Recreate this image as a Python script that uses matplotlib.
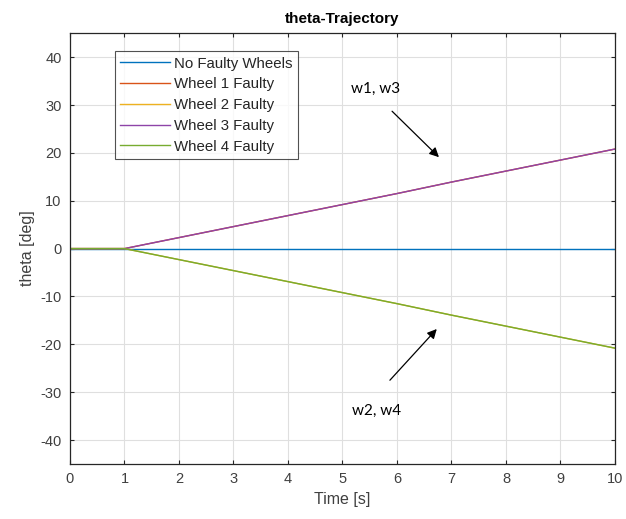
import matplotlib.pyplot as plt

# time samples [s]
time = [0, 1, 2, 3, 4, 5, 6, 7, 8, 9, 10]

# theta [deg] per case
no_faulty = [0, 0, 0, 0, 0, 0, 0, 0, 0, 0, 0]
wheel1 = [0, 0, 2.3, 4.6, 6.9, 9.2, 11.5, 13.9, 16.2, 18.5, 20.8]
wheel2 = [0, 0, -2.3, -4.6, -6.9, -9.2, -11.5, -13.9, -16.2, -18.5, -20.8]
wheel3 = [0, 0, 2.3, 4.6, 6.9, 9.2, 11.5, 13.9, 16.2, 18.5, 20.8]
wheel4 = [0, 0, -2.3, -4.6, -6.9, -9.2, -11.5, -13.9, -16.2, -18.5, -20.8]

labels = ['No Faulty Wheels', 'Wheel 1 Faulty', 'Wheel 2 Faulty',
          'Wheel 3 Faulty', 'Wheel 4 Faulty']
colors = ['#0072BD', '#D95319', '#EDB120', '#8E44A8', '#77AC30']

x_ticks = [0, 1, 2, 3, 4, 5, 6, 7, 8, 9, 10]
y_ticks = [-40, -30, -20, -10, 0, 10, 20, 30, 40]

plt.rcParams['font.family'] = ['Liberation Sans', 'DejaVu Sans']
plt.rcParams['axes.unicode_minus'] = False

fig = plt.figure(figsize=(6.26, 5.19), dpi=100)
ax = fig.add_axes([0.1118, 0.106, 0.8706, 0.830])

for y, lab, c in zip([no_faulty, wheel1, wheel2, wheel3, wheel4], labels, colors):
    ax.plot(time, y, color=c, linewidth=1.0, label=lab)

ax.set_xlim(0, 10)
ax.set_ylim(-45, 45)
ax.set_xticks(x_ticks)
ax.set_yticks(y_ticks)
ax.grid(True, color='#dfdfdf', linewidth=0.8)
ax.set_axisbelow(True)
ax.tick_params(direction='in', top=True, right=True, length=3,
               labelsize=10.5, colors='#262626', pad=6)
for lab in ax.get_xticklabels() + ax.get_yticklabels():
    lab.set_color('#404040')
for s in ax.spines.values():
    s.set_color('#262626')
    s.set_linewidth(0.9)

ax.set_title('theta-Trajectory', fontsize=11, fontweight='bold', pad=7)
ax.set_xlabel('Time [s]', fontsize=11.5, color='#404040')
ax.set_ylabel('theta [deg]', fontsize=11.5, color='#404040')

leg = ax.legend(loc='upper left', bbox_to_anchor=(0.083, 0.958), fontsize=10.8,
                frameon=True, fancybox=False, edgecolor='#262626',
                handlelength=3.3, handletextpad=0.3, labelspacing=0.45,
                borderpad=0.35, borderaxespad=0)
leg.get_frame().set_linewidth(0.8)
for t in leg.get_texts():
    t.set_color('#262626')

ann_font = ['Lato', 'DejaVu Sans']
ax.text(5.6, 33.3, 'w1, w3', fontsize=11, ha='center', va='center', family=ann_font)
ax.annotate('', xy=(6.77, 19.1), xytext=(5.91, 28.7),
            arrowprops=dict(arrowstyle='-|>', color='black', lw=0.9,
                            mutation_scale=14, shrinkA=0, shrinkB=0))
ax.text(5.63, -33.9, 'w2, w4', fontsize=11, ha='center', va='center', family=ann_font)
ax.annotate('', xy=(6.73, -16.8), xytext=(5.87, -27.5),
            arrowprops=dict(arrowstyle='-|>', color='black', lw=0.9,
                            mutation_scale=14, shrinkA=0, shrinkB=0))

fig.savefig('out.png', dpi=100)
